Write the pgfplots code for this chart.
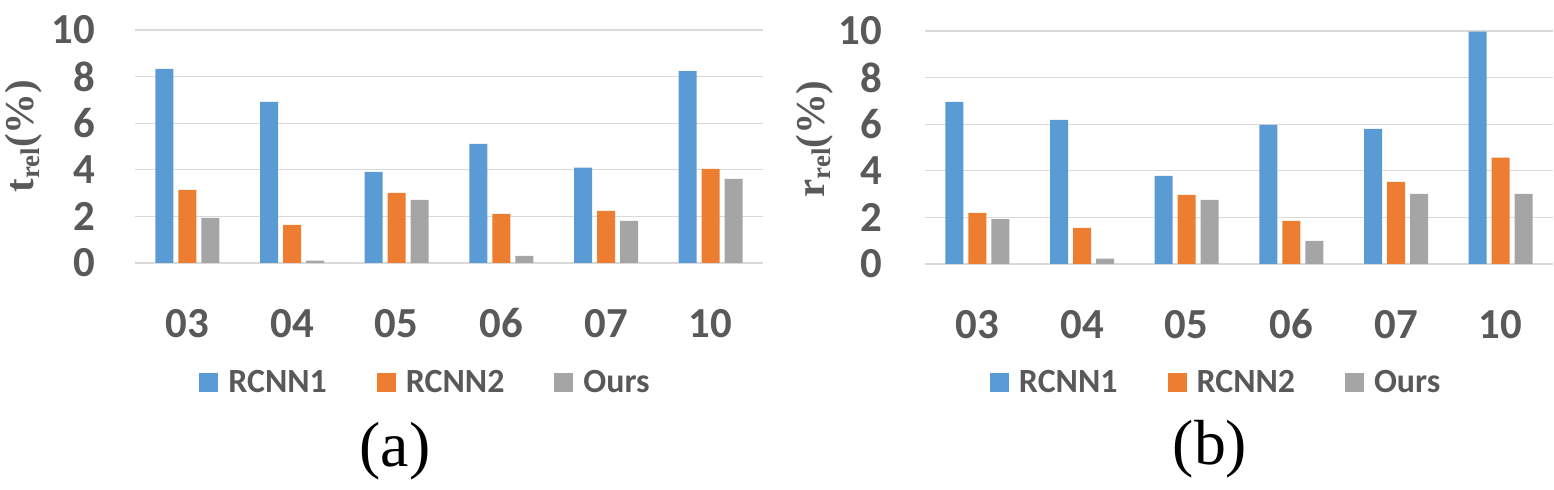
\documentclass[border=0pt]{standalone}
\usepackage{pgfplots}
\pgfplotsset{compat=1.18}
\usepackage{fontspec}
\newfontfamily\calibri{Carlito}
\newfontfamily\timesf{Liberation Serif}
\definecolor{cblue}{HTML}{5B9BD5}
\definecolor{corange}{HTML}{ED7D31}
\definecolor{cgray}{HTML}{A5A5A5}
\definecolor{ctext}{HTML}{595959}
\definecolor{cgrid}{HTML}{D9D9D9}
\pgfplotsset{
  panel/.style={
    scale only axis, width=628bp, height=233bp,
    anchor=south west,
    xmin=-0.5, xmax=5.5, ymin=0, ymax=10,
    ybar=5bp, bar width=18bp,
    xtick={0,1,2,3,4,5},
    xticklabels={03,04,05,06,07,10},
    ytick={0,2,4,6,8,10},
    yticklabels={0,2,4,6,8,10},
    /pgf/number format/assume math mode=true,
    axis line style={draw=none},
    major tick style={draw=none},
    ymajorgrids, grid style={color=cgrid, line width=1.3bp},
    ticklabel style={font=\calibri\bfseries\fontsize{43}{43}\selectfont, text=ctext, inner sep=0pt},
    xticklabel style={anchor=base, yshift=-70bp},
    legend columns=3,
    legend image code/.code={\fill[##1] (0bp,-9.5bp) rectangle (19bp,9.5bp);},
    legend style={draw=none, fill=none, inner sep=0pt, outer sep=0pt,
      font=\calibri\bfseries\fontsize{34}{34}\selectfont, text=ctext,
      nodes={inner sep=0pt},
      /tikz/every odd column/.style={column sep=10bp},
      /tikz/every even column/.style={column sep=50bp},
      anchor=center},
  }
}
\begin{document}
\begin{tikzpicture}
\path[use as bounding box] (0,0) rectangle (1554bp,490bp);
\begin{axis}[panel, at={(135bp,227bp)},
  yticklabel style={anchor=east, xshift=-40bp},
  legend style={at={(axis description cs:0.461,-0.511)}}]
\addplot[fill=cblue, draw=none] coordinates {(0,8.33) (1,6.91) (2,3.91) (3,5.11) (4,4.09) (5,8.24)};
\addplot[fill=corange, draw=none] coordinates {(0,3.14) (1,1.64) (2,3.01) (3,2.11) (4,2.24) (5,4.04)};
\addplot[fill=cgray, draw=none] coordinates {(0,1.94) (1,0.10) (2,2.71) (3,0.31) (4,1.81) (5,3.61)};
\legend{RCNN1,RCNN2,Ours}
\end{axis}
\begin{axis}[panel, at={(925bp,226bp)},
  yticklabel style={anchor=east, xshift=-43bp},
  legend style={at={(axis description cs:0.462,-0.509)}}]
\addplot[fill=cblue, draw=none] coordinates {(0,6.96) (1,6.19) (2,3.78) (3,5.97) (4,5.80) (5,9.97)};
\addplot[fill=corange, draw=none] coordinates {(0,2.19) (1,1.55) (2,2.97) (3,1.85) (4,3.52) (5,4.56)};
\addplot[fill=cgray, draw=none] coordinates {(0,1.93) (1,0.23) (2,2.75) (3,0.99) (4,3.01) (5,3.01)};
\legend{RCNN1,RCNN2,Ours}
\end{axis}
\node[rotate=90, text=ctext, inner sep=0pt] at (24bp,354bp)
  {\timesf\bfseries\fontsize{41}{41}\selectfont t\raisebox{-0.3ex}{\fontsize{27}{27}\selectfont rel}(\%)};
\node[rotate=90, text=ctext, inner sep=0pt] at (815bp,351bp)
  {\timesf\bfseries\fontsize{41}{41}\selectfont r\raisebox{-0.3ex}{\fontsize{27}{27}\selectfont rel}(\%)};
\node[inner sep=0pt] at (395bp,39bp) {\timesf\fontsize{64}{64}\selectfont (a)};
\node[inner sep=0pt] at (1210bp,41bp) {\timesf\fontsize{64}{64}\selectfont (b)};
\end{tikzpicture}
\end{document}
